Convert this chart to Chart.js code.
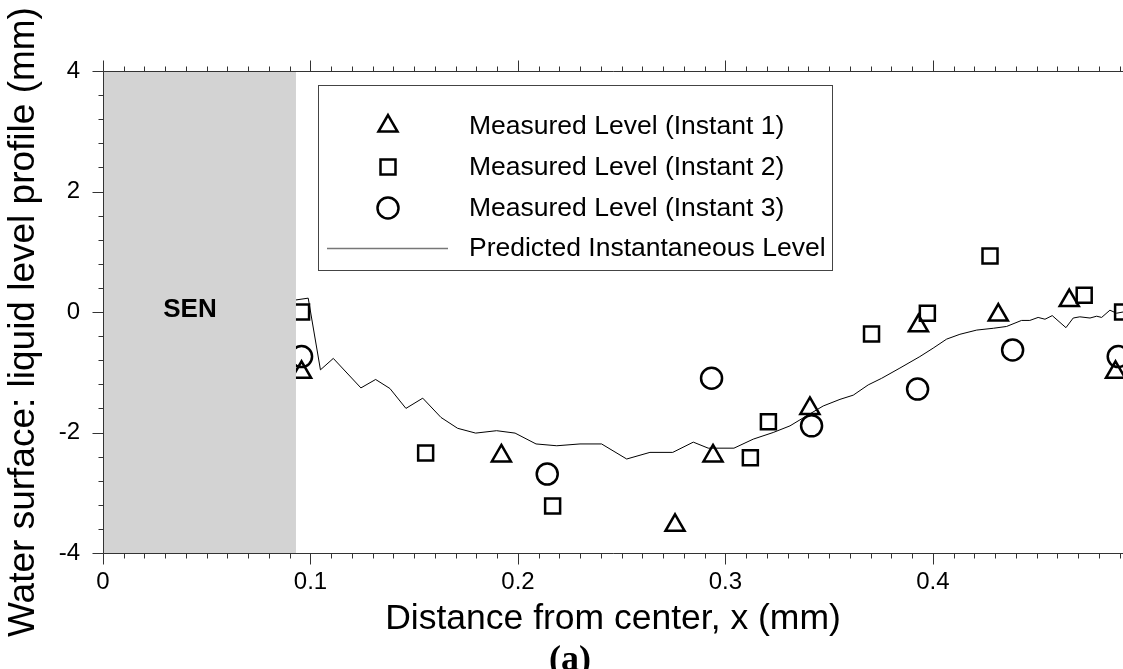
<!DOCTYPE html>
<html>
<head>
<meta charset="utf-8">
<script src="https://cdn.jsdelivr.net/npm/chart.js@4/dist/chart.umd.min.js"></script>
<style>
  html, body { margin: 0; padding: 0; background: #fff; }
  canvas { display: block; }
</style>
</head>
<body>
<canvas id="levelChart" width="1123" height="669"></canvas>
<script>
/////////////////////////////// DATA ///////////////////////////////
const inst1X = [0.0957, 0.192, 0.2757, 0.294, 0.3407, 0.393, 0.4315, 0.4657, 0.488];
const inst1Y = [-1.00, -2.39, -3.54, -2.39, -1.60, -0.23, -0.05, 0.19, -1.00];

const inst2X = [0.0957, 0.1555, 0.2167, 0.312, 0.3207, 0.3704, 0.3973, 0.4275, 0.4729, 0.4914];
const inst2Y = [0.00, -2.34, -3.22, -2.42, -1.82, -0.365, -0.02, 0.93, 0.28, 0.00];

const inst3X = [0.0957, 0.2141, 0.2933, 0.3415, 0.3926, 0.4384, 0.4893];
const inst3Y = [-0.74, -2.69, -1.10, -1.89, -1.28, -0.63, -0.74];

const predX = [0.0930, 0.0989, 0.1048, 0.1110, 0.1243, 0.1314, 0.1383, 0.1460, 0.1541, 0.1629,
               0.1709, 0.1796, 0.1897, 0.1986, 0.2087, 0.2187, 0.2299, 0.2403, 0.2524, 0.2636,
               0.2746, 0.2845, 0.2917, 0.3041, 0.3134, 0.3230, 0.3311, 0.3383, 0.3471, 0.3552,
               0.3616, 0.3688, 0.3753, 0.3841, 0.3937, 0.4001, 0.4066, 0.4130, 0.4211, 0.4291,
               0.4355, 0.4427, 0.4467, 0.4507, 0.4540, 0.4575, 0.4641, 0.4676, 0.4708, 0.4757,
               0.4789, 0.4813, 0.4853, 0.4885, 0.4916];
const predY = [0.20, 0.23, -0.96, -0.77, -1.26, -1.12, -1.27, -1.60, -1.43, -1.75,
               -1.93, -2.01, -1.97, -2.01, -2.19, -2.22, -2.19, -2.19, -2.44, -2.33,
               -2.33, -2.16, -2.26, -2.26, -2.11, -2.00, -1.89, -1.74, -1.56, -1.45,
               -1.38, -1.21, -1.10, -0.93, -0.74, -0.60, -0.45, -0.37, -0.30, -0.27,
               -0.24, -0.14, -0.14, -0.09, -0.12, -0.06, -0.26, -0.10, -0.08, -0.10,
               -0.07, -0.09, 0.03, -0.02, 0.00];

const seriesLabels = ["Measured Level (Instant 1)", "Measured Level (Instant 2)",
                      "Measured Level (Instant 3)", "Predicted Instantaneous Level"];

const xMajorTicks = [0, 0.1, 0.2, 0.3, 0.4];
const yMajorTicks = [-4, -2, 0, 2, 4];
const xMinorStep = 0.01;
const yMinorStep = 0.4;
const xRange = [0, 0.4916];
const yRange = [-4, 4];
const senEnd = 0.093;

const xTitle = "Distance from center, x (mm)";
const yTitle = "Water surface: liquid level profile (mm)";

/////////////////////////////// HELPERS ///////////////////////////////
const SANS = '"Liberation Sans", Arial, Helvetica, sans-serif';

function toPoints(xs, ys) {
    return xs.map((v, i) => ({ x: v, y: ys[i] }));
}

function markerSet(label, xs, ys, style, radius) {
    return {
        label: label,
        data: toPoints(xs, ys),
        pointStyle: style,
        pointRadius: radius,
        pointHoverRadius: radius,
        pointBorderWidth: 2.5,
        pointBorderColor: "#000",
        pointBackgroundColor: "rgba(0,0,0,0)",
        showLine: false,
        clip: false,
    };
}

function fallbackPoint(ctx, style, r, x, y) {
    ctx.beginPath();
    if (style === "circle") {
        ctx.arc(x, y, r, 0, Math.PI * 2);
    } else if (style === "rect") {
        const s = Math.SQRT1_2 * r;
        ctx.rect(x - s, y - s, 2 * s, 2 * s);
    } else {
        for (let k = 0; k < 3; k++) {
            const a = k * 2 * Math.PI / 3;
            const px = x + Math.sin(a) * r, py = y - Math.cos(a) * r;
            if (k === 0) ctx.moveTo(px, py); else ctx.lineTo(px, py);
        }
        ctx.closePath();
    }
    ctx.stroke();
}

function drawMarker(ctx, ds, x, y) {
    ctx.save();
    ctx.strokeStyle = "#000";
    ctx.fillStyle = "rgba(0,0,0,0)";
    ctx.lineWidth = ds.pointBorderWidth;
    if (Chart.helpers && Chart.helpers.drawPoint) {
        Chart.helpers.drawPoint(ctx, {
            pointStyle: ds.pointStyle, rotation: 0,
            radius: ds.pointRadius, borderWidth: ds.pointBorderWidth
        }, x, y);
    } else {
        fallbackPoint(ctx, ds.pointStyle, ds.pointRadius, x, y);
    }
    ctx.restore();
}

/////////////////////////////// OVERLAY PLUGIN ///////////////////////////////
// SEN band, axes with minor ticks, titles, legend box
const overlayPlugin = {
    id: "overlay",
    afterDatasetsDraw(chart) {
        const { ctx, chartArea: a, scales: { x, y } } = chart;
        ctx.save();

        // grey SEN region
        const xs = x.getPixelForValue(senEnd);
        ctx.fillStyle = "#d3d3d3";
        ctx.fillRect(a.left, a.top, xs - a.left, a.bottom - a.top);

        ctx.fillStyle = "#000";
        ctx.font = "bold 26px " + SANS;
        ctx.textAlign = "center";
        ctx.textBaseline = "middle";
        ctx.fillText("SEN", 190, 310);

        // axis lines
        ctx.strokeStyle = "#333";
        ctx.lineWidth = 1;
        const L = Math.round(a.left) + 0.5;
        const T = Math.round(a.top) + 0.5;
        const B = Math.round(a.bottom) + 0.5;
        ctx.beginPath();
        ctx.moveTo(L, T); ctx.lineTo(chart.width, T);
        ctx.moveTo(L, B); ctx.lineTo(chart.width, B);
        ctx.moveTo(L, T); ctx.lineTo(L, B);
        ctx.stroke();

        // x ticks (bottom outward, top outward)
        ctx.beginPath();
        const nx = Math.round((xRange[1] - xRange[0]) / xMinorStep);
        for (let i = 0; i <= nx; i++) {
            const v = xRange[0] + i * xMinorStep;
            if (v > xRange[1] + 1e-9) break;
            const px = Math.round(x.getPixelForValue(v)) + 0.5;
            const major = i % 10 === 0;
            ctx.moveTo(px, B); ctx.lineTo(px, B + (major ? 11 : 5));
            ctx.moveTo(px, T); ctx.lineTo(px, T - (major ? 11 : 5));
        }
        // y ticks (left outward)
        const ny = Math.round((yRange[1] - yRange[0]) / yMinorStep);
        for (let i = 0; i <= ny; i++) {
            const v = yRange[0] + i * yMinorStep;
            const py = Math.round(y.getPixelForValue(v)) + 0.5;
            const major = i % 5 === 0;
            ctx.moveTo(L, py); ctx.lineTo(L - (major ? 11 : 5), py);
        }
        ctx.stroke();

        // axis titles
        ctx.fillStyle = "#000";
        ctx.font = "35.5px " + SANS;
        ctx.textAlign = "center";
        ctx.textBaseline = "alphabetic";
        ctx.fillText(xTitle, (a.left + a.right) / 2, 629);

        ctx.save();
        ctx.font = "37px " + SANS;
        ctx.translate(34, 322);
        ctx.rotate(-Math.PI / 2);
        ctx.fillText(yTitle, 0, 0);
        ctx.restore();

        ctx.font = "bold 36px \"Liberation Serif\", \"Times New Roman\", serif";
        ctx.fillText("(a)", 570, 670);

        // legend box
        ctx.fillStyle = "#fff";
        ctx.fillRect(318, 85, 514, 185);
        ctx.strokeStyle = "#444";
        ctx.lineWidth = 1;
        ctx.strokeRect(318.5, 85.5, 514, 185);

        const rows = [126, 167, 208, 248];
        const sets = chart.data.datasets;
        ctx.font = "26.5px " + SANS;
        ctx.textAlign = "left";
        ctx.textBaseline = "middle";
        for (let i = 0; i < 3; i++) {
            drawMarker(ctx, sets[i], 388, rows[i]);
            ctx.fillStyle = "#000";
            ctx.fillText(sets[i].label, 469, rows[i] + 1);
        }
        ctx.strokeStyle = "#777";
        ctx.lineWidth = 1.5;
        ctx.beginPath();
        ctx.moveTo(327, rows[3] + 0.5);
        ctx.lineTo(448, rows[3] + 0.5);
        ctx.stroke();
        ctx.fillStyle = "#000";
        ctx.fillText(sets[3].label, 469, rows[3] + 1);

        ctx.restore();
    }
};

/////////////////////////////// CREATE CHART ///////////////////////////////
const levelCtx = document.getElementById("levelChart").getContext("2d");
const levelChart = new Chart(levelCtx, {
    type: "scatter",
    data: {
        datasets: [
            markerSet(seriesLabels[0], inst1X, inst1Y, "triangle", 11),
            markerSet(seriesLabels[1], inst2X, inst2Y, "rect", 10.6),
            markerSet(seriesLabels[2], inst3X, inst3Y, "circle", 10.5),
            {
                label: seriesLabels[3],
                data: toPoints(predX, predY),
                showLine: true,
                borderColor: "#000",
                borderWidth: 1,
                pointRadius: 0,
                tension: 0,
                clip: false,
            },
        ],
    },
    options: {
        responsive: false,
        animation: false,
        devicePixelRatio: 1,
        layout: { autoPadding: false, padding: { top: 71, right: 0, left: 0, bottom: 0 } },
        plugins: {
            legend: { display: false },
            tooltip: { enabled: false },
        },
        scales: {
            x: {
                type: "linear",
                min: xRange[0],
                max: xRange[1],
                afterBuildTicks: s => { s.ticks = xMajorTicks.map(v => ({ value: v })); },
                afterFit: s => { s.height = 116; s.paddingLeft = 0; s.paddingRight = 0; },
                grid: { display: false, drawTicks: false },
                border: { display: false },
                ticks: {
                    padding: 15,
                    color: "#000",
                    font: { family: SANS, size: 24 },
                    maxRotation: 0,
                    callback: v => String(Math.round(v * 10) / 10),
                },
            },
            y: {
                type: "linear",
                min: yRange[0],
                max: yRange[1],
                afterBuildTicks: s => { s.ticks = yMajorTicks.map(v => ({ value: v })); },
                afterFit: s => { s.width = 103; s.paddingTop = 0; s.paddingBottom = 0; },
                grid: { display: false, drawTicks: false },
                border: { display: false },
                ticks: {
                    padding: 23,
                    color: "#000",
                    font: { family: SANS, size: 24 },
                    callback: v => String(v),
                },
            },
        },
    },
    plugins: [overlayPlugin],
});
</script>
</body>
</html>
